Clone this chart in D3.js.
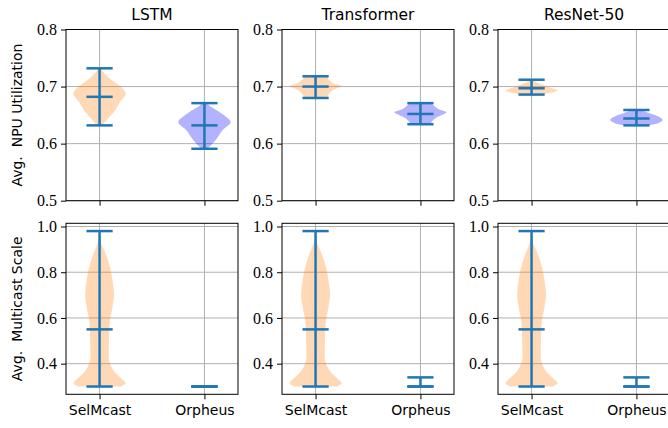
<!DOCTYPE html>
<html>
<head>
<meta charset="utf-8">
<script src="https://cdn.jsdelivr.net/npm/d3@7"></script>
<style>
  body { margin: 0; background: #fff; }
  svg { display: block; }
</style>
</head>
<body>
<script>
const width = 668;
const height = 428;

const models = ["LSTM", "Transformer", "ResNet-50"];
const methods = ["SelMcast", "Orpheus"];
const positions = [1, 2];

// top row: avg NPU utilization (min / middle / max per model, per method)
const npuMin = [[0.632, 0.591], [0.680, 0.634], [0.686, 0.632]];
const npuMid = [[0.682, 0.632], [0.700, 0.652], [0.697, 0.644]];
const npuMax = [[0.732, 0.671], [0.718, 0.671], [0.712, 0.659]];

// bottom row: avg multicast scale
const scaleMin = [[0.30, 0.30], [0.30, 0.30], [0.30, 0.30]];
const scaleMid = [[0.55, 0.30], [0.55, 0.30], [0.55, 0.30]];
const scaleMax = [[0.98, 0.30], [0.98, 0.34], [0.98, 0.34]];

// violin outlines: [value, relative half width]
const lstmSel = [[0.632, 0.1], [0.644, 0.32], [0.659, 0.6], [0.673, 0.78], [0.688, 1], [0.700, 0.8], [0.714, 0.38], [0.724, 0.16], [0.732, 0.05]];
const lstmOrp = [[0.591, 0.1], [0.597, 0.25], [0.606, 0.42], [0.624, 0.7], [0.638, 1], [0.648, 0.8], [0.659, 0.45], [0.666, 0.2], [0.671, 0.08]];
const transSel = [[0.680, 0.42], [0.686, 0.5], [0.692, 0.6], [0.697, 0.8], [0.701, 1], [0.705, 0.72], [0.710, 0.55], [0.715, 0.46], [0.718, 0.4]];
const transOrp = [[0.634, 0.38], [0.640, 0.46], [0.646, 0.62], [0.652, 0.9], [0.655, 1], [0.660, 0.72], [0.665, 0.55], [0.671, 0.42]];
const resSel = [[0.684, 0.15], [0.687, 0.5], [0.690, 0.82], [0.693, 1], [0.697, 0.78], [0.701, 0.55], [0.705, 0.32], [0.709, 0.14], [0.711, 0.04]];
const resOrp = [[0.631, 0.3], [0.634, 0.68], [0.638, 0.92], [0.642, 1], [0.646, 0.9], [0.650, 0.7], [0.654, 0.45], [0.658, 0.2], [0.659, 0.1]];
const scaleSel = [[0.30, 0.8], [0.314, 1.0], [0.328, 0.9], [0.343, 0.76], [0.36, 0.6], [0.38, 0.48], [0.40, 0.4], [0.423, 0.35], [0.47, 0.35], [0.51, 0.36], [0.583, 0.39], [0.64, 0.48], [0.706, 0.55], [0.75, 0.51], [0.80, 0.44], [0.873, 0.26], [0.93, 0.06], [0.98, 0.0]];

const npuViolins = [[lstmSel, lstmOrp], [transSel, transOrp], [resSel, resOrp]];
const scaleViolins = [[scaleSel, null], [scaleSel, null], [scaleSel, null]];

const npuTicks = [0.5, 0.6, 0.7, 0.8];
const scaleTicks = [0.4, 0.6, 0.8, 1.0];

const colors = ["#ff7f0e", "#0000ff"];
const lineColor = "#1f77b4";

const panelLefts = [66, 282, 498];
const panelW = 172;
const rows = [
  { top: 29.5, h: 171.2, domain: [0.5, 0.8], ticks: npuTicks, mins: npuMin, mids: npuMid, maxs: npuMax, violins: npuViolins, label: "Avg.  NPU Utilization", xLabels: false },
  { top: 223.3, h: 171, domain: [0.266, 1.014], ticks: scaleTicks, mins: scaleMin, mids: scaleMid, maxs: scaleMax, violins: scaleViolins, label: "Avg.  Multicast Scale", xLabels: true },
];

const svg = d3.select("body").append("svg")
  .attr("width", width)
  .attr("height", height);

rows.forEach((row, r) => {
  models.forEach((model, m) => {
    const left = panelLefts[m];
    const x = d3.scaleLinear([0.68, 2.32], [left, left + panelW]);
    const y = d3.scaleLinear(row.domain, [row.top + row.h, row.top]);
    const g = svg.append("g");

    // grid
    g.append("g").selectAll("line").data(row.ticks).join("line")
      .attr("x1", left).attr("x2", left + panelW)
      .attr("y1", (d) => y(d)).attr("y2", (d) => y(d))
      .attr("stroke", "#b0b0b0").attr("stroke-width", 1);
    g.append("g").selectAll("line").data(positions).join("line")
      .attr("x1", (d) => x(d)).attr("x2", (d) => x(d))
      .attr("y1", row.top).attr("y2", row.top + row.h)
      .attr("stroke", "#b0b0b0").attr("stroke-width", 1);

    // violins
    positions.forEach((p, k) => {
      const prof = row.violins[m][k];
      if (!prof) return;
      const area = d3.area()
        .curve(d3.curveMonotoneY)
        .y((d) => y(d[0]))
        .x0((d) => x(p - 0.25 * d[1]))
        .x1((d) => x(p + 0.25 * d[1]));
      g.append("path")
        .attr("d", area(prof))
        .attr("fill", colors[k])
        .attr("fill-opacity", 0.3);
    });

    // min / max bars and middle line
    positions.forEach((p, k) => {
      const lo = row.mins[m][k], mid = row.mids[m][k], hi = row.maxs[m][k];
      const lines = g.append("g").attr("stroke", lineColor).attr("stroke-width", 2.5);
      lines.append("line")
        .attr("x1", x(p)).attr("x2", x(p))
        .attr("y1", y(lo)).attr("y2", y(hi));
      [lo, mid, hi].forEach((v) => {
        lines.append("line")
          .attr("x1", x(p - 0.125)).attr("x2", x(p + 0.125))
          .attr("y1", y(v)).attr("y2", y(v));
      });
    });

    // y axis
    const yAxis = g.append("g")
      .attr("transform", `translate(${left},0)`)
      .call(d3.axisLeft(y).tickValues(row.ticks).tickFormat(d3.format(".1f")).tickSize(5).tickPadding(4));
    yAxis.select(".domain").remove();
    yAxis.selectAll("text")
      .attr("font-family", "'Liberation Serif', 'DejaVu Serif', serif")
      .attr("font-size", 16)
      .attr("fill", "#000");

    // x axis
    const xAxis = g.append("g")
      .attr("transform", `translate(0,${row.top + row.h})`)
      .call(d3.axisBottom(x).tickValues(positions).tickSize(5).tickPadding(6)
        .tickFormat((d, i) => (row.xLabels ? methods[i] : "")));
    xAxis.select(".domain").remove();
    xAxis.selectAll("text")
      .attr("font-family", "'DejaVu Sans', sans-serif")
      .attr("font-size", 14)
      .attr("fill", "#000");

    // frame
    g.append("rect")
      .attr("x", left).attr("y", row.top)
      .attr("width", panelW).attr("height", row.h)
      .attr("fill", "none").attr("stroke", "#000").attr("stroke-width", 1);

    if (r === 0) {
      svg.append("text")
        .attr("x", left + panelW / 2).attr("y", 20)
        .attr("text-anchor", "middle")
        .attr("font-family", "'DejaVu Sans', sans-serif")
        .attr("font-size", 15.5)
        .text(model);
    }
  });

  svg.append("text")
    .attr("transform", `translate(22,${row.top + row.h / 2}) rotate(-90)`)
    .attr("text-anchor", "middle")
    .attr("font-family", "'DejaVu Sans', sans-serif")
    .attr("font-size", 14)
    .style("white-space", "pre")
    .text(row.label);
});
</script>
</body>
</html>
